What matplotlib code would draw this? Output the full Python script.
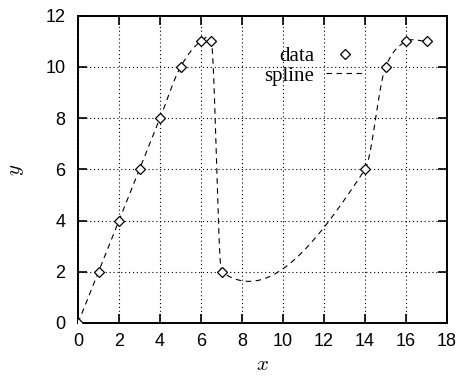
import numpy as np
import matplotlib
matplotlib.use("Agg")
import matplotlib.pyplot as plt

plt.rcParams['mathtext.fontset'] = 'cm'

# sample points
x_data = [0, 1, 2, 3, 4, 5, 6, 6.5, 7, 14, 15, 16, 17]
y_data = [0, 2, 4, 6, 8, 10, 11, 11, 2, 6, 10, 11, 11]
x_ticks = [0, 2, 4, 6, 8, 10, 12, 14, 16, 18]
y_ticks = [0, 2, 4, 6, 8, 10, 12]


def cr_tangents(P, alpha=0.35):
    # Catmull-Rom tangents with non-uniform (chord**alpha) knot spacing
    T = np.zeros_like(P)
    n = len(P)
    for i in range(n):
        if i == 0 or i == n - 1:
            j = 1 if i == 0 else i
            T[i] = (P[j] - P[j - 1]) / np.linalg.norm(P[j] - P[j - 1]) ** alpha
            continue
        p0, p1, p2 = P[i - 1], P[i], P[i + 1]
        d0 = np.linalg.norm(p1 - p0) ** alpha
        d1 = np.linalg.norm(p2 - p1) ** alpha
        T[i] = (p1 - p0) / d0 - (p2 - p0) / (d0 + d1) + (p2 - p1) / d1
    return T


def hermite(x, y, m, n=80):
    # piecewise cubic Hermite y(x) with slopes m
    X, Y = [], []
    s = np.linspace(0, 1, n)
    h00 = 2 * s**3 - 3 * s**2 + 1
    h10 = s**3 - 2 * s**2 + s
    h01 = -2 * s**3 + 3 * s**2
    h11 = s**3 - s**2
    for i in range(len(x) - 1):
        h = x[i + 1] - x[i]
        X.append(x[i] + s * h)
        Y.append(h00 * y[i] + h10 * h * m[i] + h01 * y[i + 1] + h11 * h * m[i + 1])
    return np.concatenate(X), np.concatenate(Y)


xs = np.array(x_data, float)
ys = np.array(y_data, float)
T = cr_tangents(np.column_stack([xs, ys]))
sx, sy = hermite(xs, ys, T[:, 1] / T[:, 0])

fig = plt.figure(figsize=(4.59, 3.76), dpi=100)
ax = fig.add_axes([0.170, 0.141, 0.804, 0.817])

ax.plot(sx, sy, color='black', lw=0.8, dashes=(5, 4), label='spline', zorder=3)
ax.plot(x_data, y_data, ls='none', marker='D', ms=5, mfc='white', mec='black',
        mew=0.9, label='data', zorder=4)

ax.set_xlim(0, 18)
ax.set_ylim(0, 12)
ax.set_xticks(x_ticks)
ax.set_yticks(y_ticks)
ax.grid(True, color='black', ls=(0, (1, 2.5)), lw=0.8)
for sp in ax.spines.values():
    sp.set_linewidth(1.4)
ax.tick_params(direction='in', length=6.5, width=1.2, top=True, right=True,
               labelsize=13, labelfontfamily='Liberation Sans')
ax.tick_params(axis='x', pad=7)
ax.tick_params(axis='y', pad=9)

ax.set_xlabel('$x$', fontsize=15, labelpad=3)
ax.set_ylabel('$y$', fontsize=15, labelpad=14)

h, l = ax.get_legend_handles_labels()
leg = ax.legend(h[::-1], l[::-1], loc='upper right', bbox_to_anchor=(0.772, 0.9),
                markerfirst=False, frameon=False, borderpad=0, borderaxespad=0,
                handlelength=1.75, handletextpad=0.6, labelspacing=0,
                prop={'family': 'Liberation Serif', 'size': 15})

fig.savefig('out.png', dpi=100)
